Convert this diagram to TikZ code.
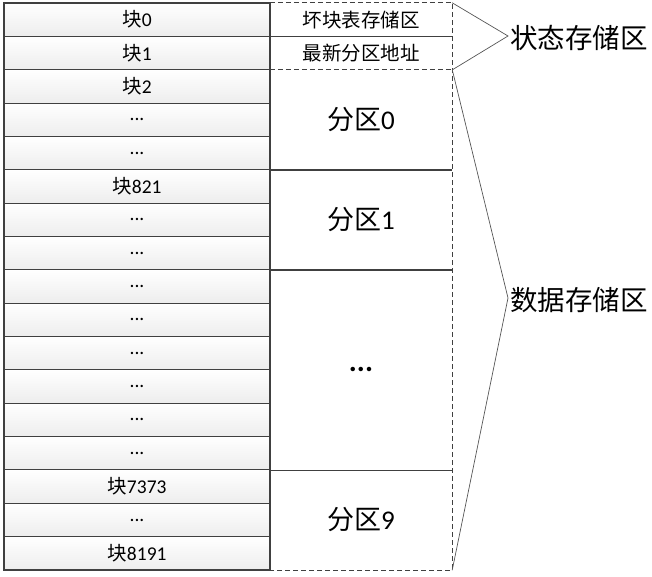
\documentclass[tikz,border=0pt]{standalone}
\usepackage{fontspec}
\setmainfont{Carlito}
\newfontfamily\cjk{Noto Sans CJK SC}
\usetikzlibrary{calc}
\definecolor{edge}{HTML}{404040}
\definecolor{brace}{HTML}{555555}
\newcommand{\Kuai}{{\cjk 块}}
\newcommand{\Dd}{.{}.{}.}
\begin{document}
\begin{tikzpicture}[x=1pt,y=-1pt,
  lcell/.style={draw=edge, line width=1.1pt, minimum width=266pt, minimum height=33.353pt,
    inner sep=0pt, top color=white, bottom color=gray!14, font=\fontsize{19.5}{19.5}\selectfont},
  rcell/.style={minimum width=182pt, inner sep=0pt},
  rsmall/.style={font=\cjk\fontsize{19.5}{19.5}\selectfont},
  rbig/.style={font=\fontsize{27}{27}\selectfont},
  sep/.style={draw=edge, line width=1.1pt},
  dsep/.style={draw=edge, line width=0.9pt, dash pattern=on 5pt off 3pt},
  bline/.style={draw=brace, line width=0.7pt},
  side/.style={anchor=west, inner sep=0pt, font=\cjk\fontsize{27.5}{27.5}\selectfont}]
\useasboundingbox (0,0) rectangle (652,577);
\def\rh{33.353}
% left column
\foreach \i/\t in {0/\Kuai0,1/\Kuai1,2/\Kuai2,3/\Dd,4/\Dd,5/\Kuai821,6/\Dd,7/\Dd,8/\Dd,9/\Dd,10/\Dd,11/\Dd,12/\Dd,13/\Dd,14/\Kuai7373,15/\Dd,16/\Kuai8191}{
  \node[lcell] (L\i) at (137,{3+(\i+0.5)*\rh}) {\t};
}
% right column
\node[rcell, minimum height=\rh pt, rsmall] (R0) at (361,{3+0.5*\rh}) {坏块表存储区};
\node[rcell, minimum height=\rh pt, rsmall] (R1) at (361,{3+1.5*\rh}) {最新分区地址};
\node[rcell, minimum height={3*\rh pt}, rbig] (P0) at (361,{3+3.5*\rh}) {{\cjk 分区}0};
\node[rcell, minimum height={3*\rh pt}, rbig] (P1) at (361,{3+6.5*\rh}) {{\cjk 分区}1};
\node[rcell, minimum height={6*\rh pt}, font=\bfseries\fontsize{30}{30}\selectfont] (PD) at (361,{3+11*\rh}) {\Dd};
\node[rcell, minimum height={3*\rh pt}, rbig] (P9) at (361,{3+15.5*\rh}) {{\cjk 分区}9};
% solid internal separators
\draw[sep] (R0.south west) -- (R0.south east);
\draw[sep] (P0.south west) -- (P0.south east);
\draw[sep] (P1.south west) -- (P1.south east);
\draw[sep] (PD.south west) -- (PD.south east);
% dashed outlines
\draw[dsep] (R0.north west) -- (R0.north east) -- (P9.south east) -- (P9.south west);
\draw[dsep] (R1.south west) -- (R1.south east);
% brace lines
\coordinate (A1) at (508,36);
\coordinate (A2) at (508,298);
\draw[bline] (R0.north east) -- (A1) -- (R1.south east);
\draw[bline] (P0.north east) -- (A2) -- (P9.south east);
\node[side] (S1) at (510,38) {状态存储区};
\node[side] (S2) at (510,300) {数据存储区};
\end{tikzpicture}
\end{document}
